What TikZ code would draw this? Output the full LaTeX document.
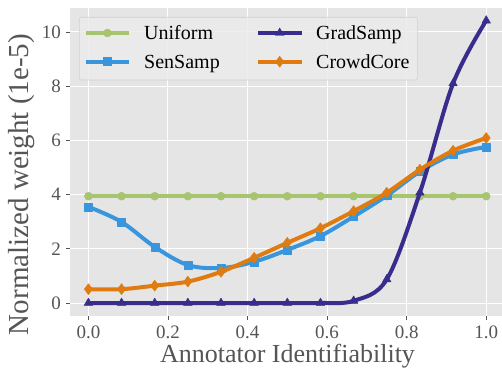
\documentclass[tikz,border=0pt]{standalone}
\usepackage{fontspec}
\setmainfont{Liberation Serif}
\usetikzlibrary{plotmarks}

\definecolor{unifcol}{RGB}{166,197,110}
\definecolor{sencol}{RGB}{58,150,220}
\definecolor{gradcol}{RGB}{56,44,140}
\definecolor{crowdcol}{RGB}{224,123,16}
\definecolor{panel}{RGB}{229,229,229}
\definecolor{legfill}{RGB}{236,236,236}
\definecolor{legedge}{RGB}{208,208,208}
\definecolor{tickgray}{RGB}{85,85,85}

\tikzset{
  gridline/.style={white, line width=1pt},
  tickmark/.style={tickgray, line width=0.8pt},
  ticklab/.style={text=tickgray, font=\fontsize{19}{19}\selectfont, inner sep=0pt},
  axislab/.style={text=tickgray, inner sep=0pt},
  curve/.style={line width=4pt, smooth, tension=0.55, line join=round},
  legline/.style={line width=4pt},
  legtext/.style={font=\fontsize{20}{20}\selectfont, anchor=base west, inner sep=0pt},
  unifmark/.style={mark=*, mark size=4pt, mark options={fill=unifcol, draw=unifcol, line width=0.4pt}},
  senmark/.style={mark=square*, mark size=4pt, mark options={fill=sencol, draw=sencol, line width=0.4pt}},
  gradmark/.style={mark=triangle*, mark size=5pt, mark options={fill=gradcol, draw=gradcol, line width=0.4pt}},
  crowdmark/.style={mark=diamond*, mark size=5.5pt, mark options={fill=crowdcol, draw=crowdcol, line width=0.4pt}}
}

\begin{document}
\begin{tikzpicture}[x=1pt,y=1pt]
\useasboundingbox (0,0) rectangle (502,369);

\begin{scope}[shift={(88.4,66)}, x=397.8pt, y=27.1pt]
  % panel and grid
  \fill[panel] (-0.0463,-0.48) rectangle (1.0397,10.886);
  \foreach \x in {0,0.2,0.4,0.6,0.8,1} \draw[gridline] (\x,-0.48) -- (\x,10.886);
  \foreach \y in {0,2,4,6,8,10} \draw[gridline] (-0.0463,\y) -- (1.0397,\y);

  % ticks
  \foreach \x/\l in {0/0.0,0.2/0.2,0.4/0.4,0.6/0.6,0.8/0.8,1/1.0} {
    \draw[tickmark] (\x,-0.48) -- (\x,-0.63);
    \node[ticklab, anchor=base] at (\x,-1.30) {\l};
  }
  \foreach \y in {0,2,4,6,8,10} {
    \draw[tickmark] (-0.0575,\y) -- (-0.0463,\y);
    \node[ticklab, anchor=east] at (-0.069,\y) {\y};
  }

  % curves
  \draw[curve, unifcol, unifmark] plot coordinates {(0,3.94) (0.0833,3.94) (0.1667,3.94) (0.25,3.94) (0.3333,3.94) (0.4167,3.94) (0.5,3.94) (0.5833,3.94) (0.6667,3.94) (0.75,3.94) (0.8333,3.94) (0.9167,3.94) (1,3.94)};
  \draw[curve, sencol, senmark] plot coordinates {(0,3.55) (0.0833,2.99) (0.1667,2.07) (0.25,1.40) (0.3333,1.29) (0.4167,1.52) (0.5,1.96) (0.5833,2.47) (0.6667,3.19) (0.75,3.96) (0.8333,4.85) (0.9167,5.48) (1,5.76)};
  \draw[curve, gradcol, gradmark] plot coordinates {(0,0) (0.0833,0) (0.1667,0) (0.25,0) (0.3333,0) (0.4167,0) (0.5,0) (0.5833,0) (0.6667,0.08) (0.75,0.87) (0.8333,4.07) (0.9167,8.1) (1,10.42)};
  \draw[curve, crowdcol, crowdmark] plot coordinates {(0,0.51) (0.0833,0.51) (0.1667,0.64) (0.25,0.79) (0.3333,1.15) (0.4167,1.67) (0.5,2.22) (0.5833,2.76) (0.6667,3.39) (0.75,4.07) (0.8333,4.92) (0.9167,5.62) (1,6.09)};
\end{scope}

% legend
\draw[legedge, fill=legfill, fill opacity=0.85, rounded corners=2pt, line width=0.6pt] (79.3,289) rectangle (417.3,351.7);
\draw[legline, unifcol] (86,336) -- (129,336);
\path[unifmark] plot coordinates {(107.5,336)};
\node[legtext] (lunif) at (144,329) {Uniform};
\draw[legline, sencol] (86,307.3) -- (129,307.3);
\path[senmark] plot coordinates {(107.5,307.3)};
\node[legtext] (lsen) at (144,300.7) {SenSamp};
\draw[legline, gradcol] (257.7,336) -- (301.7,336);
\path[gradmark] plot coordinates {(279.7,336)};
\node[legtext] (lgrad) at (316,329) {GradSamp};
\draw[legline, crowdcol] (257.7,307.3) -- (301.7,307.3);
\path[crowdmark] plot coordinates {(279.7,307.3)};
\node[legtext] (lcrowd) at (316,300.7) {CrowdCore};

% axis labels
\node[axislab, font=\fontsize{26}{26}\selectfont, anchor=base] (xlab) at (287.5,6.2) {Annotator Identifiability};
\node[axislab, font=\fontsize{29}{29}\selectfont, rotate=90] (ylab) at (22,184.5) {Normalized weight (1e-5)};
\end{tikzpicture}
\end{document}
